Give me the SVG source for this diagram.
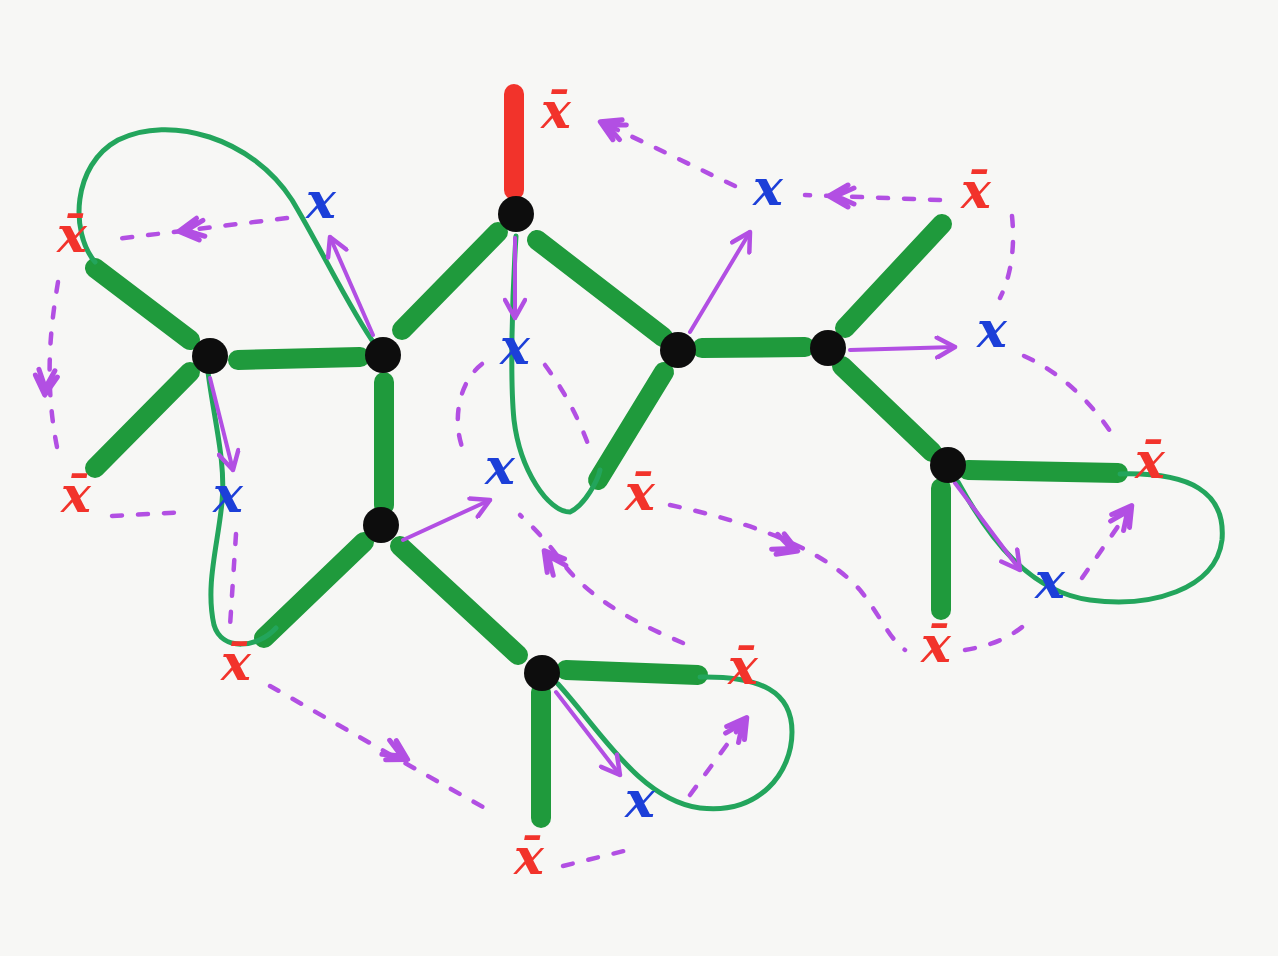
<svg xmlns="http://www.w3.org/2000/svg" xmlns:xlink="http://www.w3.org/1999/xlink" width="1278" height="956" viewBox="0 0 1278 956">
<style>
.bg{fill:#f7f7f5}
.thick{stroke:#1f9a3c;stroke-width:20;stroke-linecap:round;fill:none}
.red{stroke:#f2332b;stroke-width:20;stroke-linecap:round;fill:none}
.loop{stroke:#23a55c;stroke-width:5;fill:none;stroke-linecap:round;stroke-linejoin:round}
.sol{stroke:#b24fe3;stroke-width:4;fill:none;stroke-linecap:round}
.dash{stroke:#b24fe3;stroke-width:4.5;fill:none;stroke-linecap:round;stroke-dasharray:10 16}
.dot{fill:#0d0d0d}
.xb{fill:#f2332b;font-family:"DejaVu Serif",serif;font-style:italic;font-weight:bold;font-size:50px;text-anchor:middle}
.x{fill:#1c3fd8;font-family:"DejaVu Serif",serif;font-style:italic;font-weight:bold;font-size:50px;text-anchor:middle}
</style>
<defs>
<path id="chev" d="M -16,-11 L 3,0 L -16,11 M -22,-8 L -4,0 L -22,8" fill="none" stroke="#b24fe3" stroke-width="5" stroke-linecap="round" stroke-linejoin="round"/>
<marker id="ah" viewBox="-20 -12 26 24" refX="2" refY="0" markerWidth="26" markerHeight="24" markerUnits="userSpaceOnUse" orient="auto">
<path d="M -16,-10 L 2,0 L -16,10" fill="none" stroke="#b24fe3" stroke-width="4.5" stroke-linecap="round" stroke-linejoin="round"/>
</marker>
</defs>
<rect class="bg" x="0" y="0" width="1278" height="956"/>

<g id="edges">
<path class="thick" d="M238,360 L360,357"/>
<path class="thick" d="M190,340 L95,268"/>
<path class="thick" d="M190,372 L95,468"/>
<path class="thick" d="M402,330 L498,232"/>
<path class="thick" d="M384,382 L384,505"/>
<path class="thick" d="M537,240 L663,337"/>
<path class="thick" d="M702,348 L805,347"/>
<path class="thick" d="M664,372 L598,480"/>
<path class="thick" d="M845,328 L942,224"/>
<path class="thick" d="M842,366 L932,452"/>
<path class="thick" d="M968,470 L1118,473"/>
<path class="thick" d="M941,488 L941,610"/>
<path class="thick" d="M364,542 L264,638"/>
<path class="thick" d="M400,546 L518,655"/>
<path class="thick" d="M566,670 L698,675"/>
<path class="thick" d="M541,692 L541,818"/>
<path class="red" d="M514,94 L514,190"/>
</g>

<g id="loops">
<path class="loop" d="M95,262 C70,232 72,165 118,140 C170,114 252,138 292,200 C322,250 350,310 376,346"/>
<path class="loop" d="M208,372 C214,420 226,462 222,502 C218,545 205,585 214,625 C222,652 258,648 276,628"/>
<path class="loop" d="M516,236 C512,300 510,380 514,420 C520,470 548,512 570,512 C585,505 598,480 600,470"/>
<path class="loop" d="M958,482 C990,540 1030,592 1090,600 C1150,608 1216,590 1222,540 C1226,492 1190,472 1120,474"/>
<path class="loop" d="M558,684 C600,730 640,800 700,808 C760,815 792,772 792,732 C792,692 762,676 700,677"/>
</g>

<g id="connectors">
<path class="sol" marker-end="url(#ah)" d="M373,335 L330,237"/>
<path class="sol" marker-end="url(#ah)" d="M690,332 L750,232"/>
<path class="sol" marker-end="url(#ah)" d="M850,350 L955,347"/>
<path class="sol" marker-end="url(#ah)" d="M515,238 L515,318"/>
<path class="sol" marker-end="url(#ah)" d="M403,540 L490,500"/>
<path class="sol" marker-end="url(#ah)" d="M210,378 L233,470"/>
<path class="sol" marker-end="url(#ah)" d="M955,483 L1020,570"/>
<path class="sol" marker-end="url(#ah)" d="M556,692 L620,775"/>

<path class="dash" d="M287,218 L108,240"/>
<path class="dash" d="M735,186 C705,172 665,152 605,124"/>
<path class="dash" d="M940,200 L805,195"/>
<path class="dash" d="M1012,216 C1016,255 1008,282 1000,298"/>
<path class="dash" d="M1024,356 C1060,372 1092,402 1116,440"/>
<path class="dash" d="M545,365 C565,392 580,420 592,455"/>
<path class="dash" d="M482,364 C455,385 452,430 466,456"/>
<path class="dash" d="M683,643 C640,625 590,600 562,562 C546,540 532,526 520,515"/>
<path class="dash" d="M670,505 C740,520 820,545 860,590 C880,615 890,640 905,650"/>
<path class="dash" d="M965,650 C995,645 1015,635 1030,620"/>
<path class="dash" d="M1082,578 L1128,512"/>
<path class="dash" d="M58,282 C50,330 44,385 58,452"/>
<path class="dash" d="M112,516 L186,512"/>
<path class="dash" d="M236,534 L230,626"/>
<path class="dash" d="M270,686 C330,720 420,772 492,812"/>
<path class="dash" d="M563,866 L628,850"/>
<path class="dash" d="M690,795 L742,724"/>

<use xlink:href="#chev" transform="translate(182,231) rotate(173)"/>
<use xlink:href="#chev" transform="translate(603,123) rotate(-155)"/>
<use xlink:href="#chev" transform="translate(832,196) rotate(180)"/>
<use xlink:href="#chev" transform="translate(45,392) rotate(95)"/>
<use xlink:href="#chev" transform="translate(546,553) rotate(-128)"/>
<use xlink:href="#chev" transform="translate(795,550) rotate(22)"/>
<use xlink:href="#chev" transform="translate(1130,508) rotate(-54)"/>
<use xlink:href="#chev" transform="translate(405,758) rotate(29)"/>
<use xlink:href="#chev" transform="translate(745,720) rotate(-54)"/>
</g>

<g id="nodes">
<g id="nA"><circle class="dot" cx="210" cy="356" r="18"/></g>
<g id="nB"><circle class="dot" cx="383" cy="355" r="18"/></g>
<g id="nC"><circle class="dot" cx="516" cy="214" r="18"/></g>
<g id="nD"><circle class="dot" cx="678" cy="350" r="18"/></g>
<g id="nE"><circle class="dot" cx="828" cy="348" r="18"/></g>
<g id="nF"><circle class="dot" cx="948" cy="465" r="18"/></g>
<g id="nG"><circle class="dot" cx="381" cy="525" r="18"/></g>
<g id="nH"><circle class="dot" cx="542" cy="673" r="18"/></g>
</g>

<g id="labels">
<text class="xb" x="556" y="128">x̄</text>
<text class="xb" x="976" y="208">x̄</text>
<text class="xb" x="72" y="252">x̄</text>
<text class="xb" x="76" y="512">x̄</text>
<text class="xb" x="1150" y="478">x̄</text>
<text class="xb" x="640" y="510">x̄</text>
<text class="xb" x="236" y="680">x̄</text>
<text class="xb" x="936" y="662">x̄</text>
<text class="xb" x="743" y="684">x̄</text>
<text class="xb" x="529" y="874">x̄</text>
<text class="x" x="321" y="218">x</text>
<text class="x" x="768" y="205">x</text>
<text class="x" x="992" y="347">x</text>
<text class="x" x="515" y="364">x</text>
<text class="x" x="500" y="484">x</text>
<text class="x" x="228" y="512">x</text>
<text class="x" x="1050" y="598">x</text>
<text class="x" x="640" y="817">x</text>
</g>
</svg>
